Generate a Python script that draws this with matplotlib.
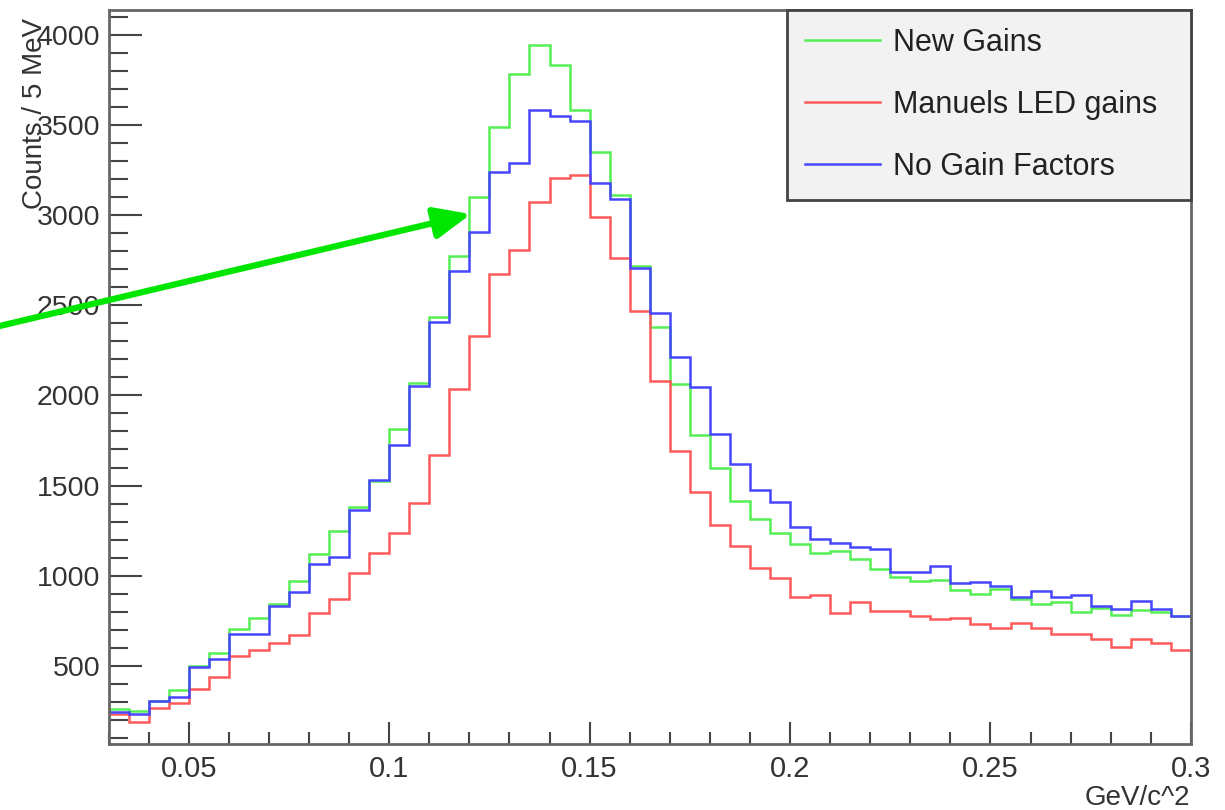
import numpy as np
import matplotlib
matplotlib.use('Agg')
import matplotlib.pyplot as plt
from matplotlib.ticker import MultipleLocator

plt.rcParams['font.family'] = ['Liberation Sans', 'DejaVu Sans']

# binning: 5 MeV bins from 0.03 to 0.3 GeV/c^2
x_min, x_max, n_bins = 0.03, 0.30, 54
edges = np.linspace(x_min, x_max, n_bins + 1)

# counts per bin
new_gains = [260, 250, 308, 367, 500, 570, 703, 764, 842, 971,
             1121, 1250, 1383, 1524, 1813, 2067, 2437, 2775, 3102, 3488,
             3782, 3943, 3832, 3583, 3351, 3111, 2715, 2381, 2063, 1781,
             1596, 1417, 1313, 1238, 1176, 1125, 1138, 1092, 1036, 995,
             973, 977, 921, 901, 926, 870, 844, 857, 798, 820,
             783, 811, 801, 779]
led_gains = [236, 188, 269, 293, 371, 441, 556, 589, 629, 672,
             792, 870, 1015, 1125, 1239, 1402, 1670, 2035, 2330, 2675,
             2806, 3074, 3204, 3222, 2987, 2760, 2468, 2082, 1694, 1463,
             1282, 1166, 1042, 986, 884, 894, 796, 853, 805, 805,
             779, 761, 764, 730, 710, 737, 709, 676, 676, 648,
             607, 650, 629, 589]
no_gain = [247, 232, 306, 325, 496, 539, 677, 677, 833, 912,
           1064, 1106, 1362, 1530, 1724, 2054, 2405, 2690, 2906, 3236,
           3290, 3583, 3549, 3522, 3180, 3088, 2705, 2459, 2215, 2049,
           1785, 1618, 1476, 1410, 1268, 1204, 1184, 1162, 1147, 1023,
           1023, 1056, 958, 965, 944, 881, 916, 884, 894, 834,
           814, 862, 814, 779]

labels = ['New Gains', 'Manuels LED gains', 'No Gain Factors']
colors = ['#55ee55', '#ff5a5a', '#4646ff']

fig = plt.figure(figsize=(12.25, 8.1), dpi=100)
ax = fig.add_axes([0.0886, 0.0815, 0.8836, 0.9062])

for vals, lab, col in zip([new_gains, led_gains, no_gain], labels, colors):
    ax.stairs(vals, edges, baseline=None, color=col, lw=1.8, label=lab)

ax.set_xlim(x_min, x_max)
ax.set_ylim(67, 4137)

ax.xaxis.set_minor_locator(MultipleLocator(0.01))
ax.yaxis.set_minor_locator(MultipleLocator(100))
ax.set_xticks([0.05, 0.1, 0.15, 0.2, 0.25, 0.3])
ax.set_xticklabels(['0.05', '0.1', '0.15', '0.2', '0.25', '0.3'])
ax.set_yticks(np.arange(500, 4001, 500))

ax.tick_params(axis='both', which='both', direction='in', colors='#444444',
               labelcolor='#333333', width=1.5)
ax.tick_params(axis='x', which='major', length=16, pad=8, labelsize=21)
ax.tick_params(axis='x', which='minor', length=9)
ax.tick_params(axis='y', which='major', length=24, pad=6, labelsize=20.5)
ax.tick_params(axis='y', which='minor', length=14)

for s in ax.spines.values():
    s.set_color('#666666')
    s.set_linewidth(2)

leg = ax.legend(loc='upper left', bbox_to_anchor=(0.6268, 0.7507, 0.3732, 0.2493),
                mode='expand', borderaxespad=0, fancybox=False, fontsize=22,
                handlelength=2.45, handletextpad=0.42, labelspacing=1.05,
                borderpad=0.59, framealpha=1)
leg.get_frame().set_facecolor('#f2f2f2')
leg.get_frame().set_edgecolor('#444444')
leg.get_frame().set_linewidth(2)
for t in leg.get_texts():
    t.set_color('#222222')

# arrow pointing to the rising edge of the peak
ax.annotate('', xy=(0.1204, 3005), xytext=(0.0029, 2385),
            arrowprops=dict(arrowstyle='-|>,head_length=2.2,head_width=0.95',
                            color='#00e600', lw=4.5, shrinkA=0, shrinkB=0),
            annotation_clip=False)

fig.text(35 / 1225, 1 - 18 / 810, 'Counts / 5 MeV', rotation=90, ha='center',
         va='top', fontsize=20, color='#333333')
fig.text(1190 / 1225, 1 - 798 / 810, 'GeV/c^2', ha='right', va='center',
         fontsize=20, color='#333333')

plt.savefig('out.png', dpi=100)
